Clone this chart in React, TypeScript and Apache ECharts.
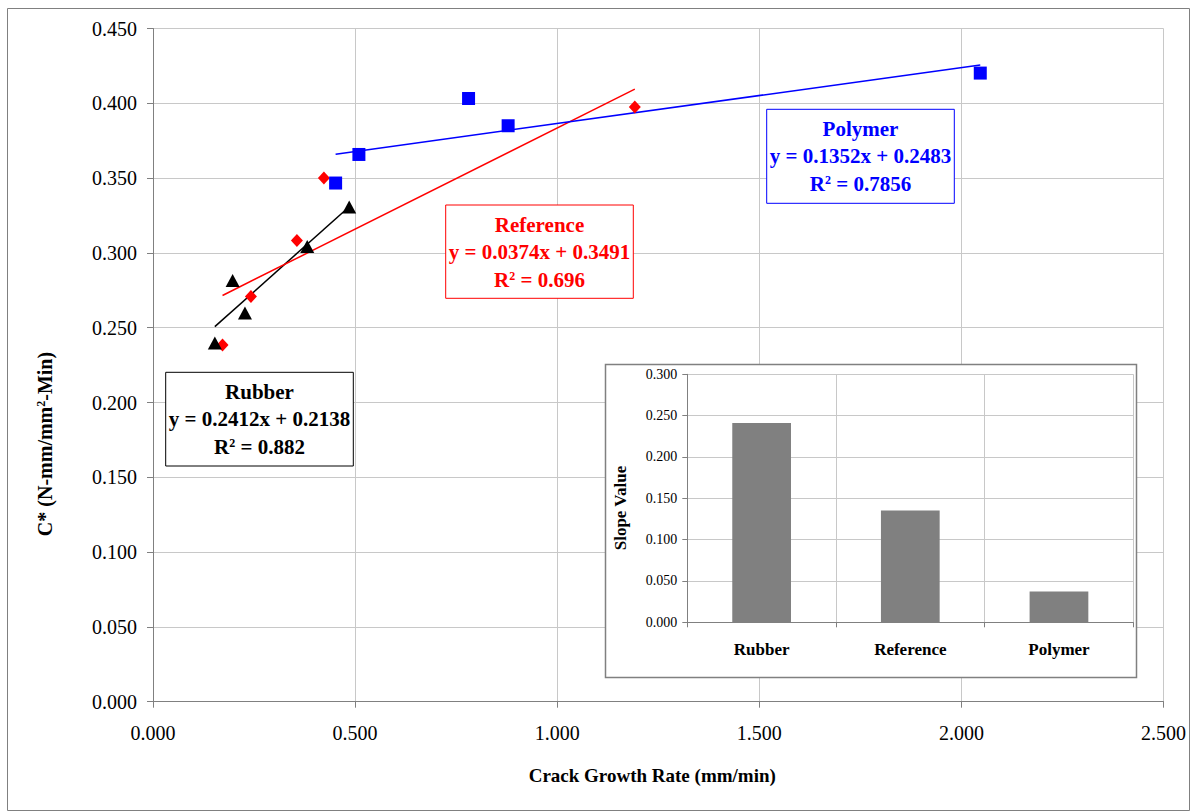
import React, { useEffect, useRef } from "react";
import * as echarts from "echarts";

// Scatter data
const rubberX = [0.153, 0.197, 0.2275, 0.3816, 0.4854];
const rubberY = [0.2398, 0.2816, 0.2598, 0.3043, 0.3307];
const referenceX = [0.172, 0.2423, 0.356, 0.4228, 1.192];
const referenceY = [0.2384, 0.2709, 0.3083, 0.35, 0.3975];
const polymerX = [0.4518, 0.5094, 0.7807, 0.8786, 2.0467];
const polymerY = [0.3467, 0.3658, 0.4032, 0.385, 0.4202];

// Trend lines as drawn: [slope, intercept]
const rubberTrend = [0.2412, 0.2138];
const referenceTrend = [0.1352, 0.2483];
const polymerTrend = [0.0374, 0.3491];

// Inset bar chart
const slopeCategories = ["Rubber", "Reference", "Polymer"];
const slopeValues = [0.2412, 0.1352, 0.0374];

// Annotation box texts (as printed)
const rubberLabel = ["Rubber", "y = 0.2412x + 0.2138", "0.882"];
const referenceLabel = ["Reference", "y = 0.0374x + 0.3491", "0.696"];
const polymerLabel = ["Polymer", "y = 0.1352x + 0.2483", "0.7856"];

const FONT = "'Liberation Serif', 'Times New Roman', serif";

function pts(xs: number[], ys: number[]) {
  return xs.map((x, i) => [x, ys[i]]);
}
function trend(xs: number[], t: number[]) {
  const a = Math.min(...xs);
  const b = Math.max(...xs);
  return [
    [a, t[0] * a + t[1]],
    [b, t[0] * b + t[1]],
  ];
}

function box(
  x: number,
  y: number,
  w: number,
  h: number,
  color: string,
  lines: string[]
) {
  const cx = x + w / 2;
  const base = { fontFamily: FONT, fontWeight: "bold", fontSize: 21, fill: color };
  return {
    type: "group",
    z: 10,
    children: [
      {
        type: "rect",
        z: 10,
        shape: { x, y, width: w, height: h },
        style: { fill: "#ffffff", stroke: color, lineWidth: 1 },
      },
      {
        type: "text",
        z: 11,
        x: cx,
        y: y + 19.5,
        style: { ...base, text: lines[0], align: "center", verticalAlign: "middle" },
      },
      {
        type: "text",
        z: 11,
        x: cx,
        y: y + 47,
        style: { ...base, text: lines[1], align: "center", verticalAlign: "middle" },
      },
      {
        type: "text",
        z: 11,
        x: cx,
        y: y + 75,
        style: {
          text: "{a|R}{s|2}{a| = " + lines[2] + "}",
          align: "center",
          verticalAlign: "middle",
          fill: color,
          rich: {
            a: { fontFamily: FONT, fontWeight: "bold", fontSize: 21, fill: color, color: color },
            s: {
              fontFamily: FONT,
              fontWeight: "bold",
              fontSize: 12,
              fill: color,
              color: color,
              verticalAlign: "top",
              padding: [0, 0, 6, 0],
            },
          },
        },
      },
    ],
  };
}

export default function App() {
  const ref = useRef<HTMLDivElement>(null);
  useEffect(() => {
    document.body.style.margin = "0";
    const chart = echarts.init(ref.current!, null, { renderer: "svg" });
    const gridGray = "#c8c8c8";
    const axisGray = "#808080";
    chart.setOption({
      animation: false,
      backgroundColor: "#ffffff",
      textStyle: { fontFamily: FONT },
      grid: [
        { left: 153, right: 30.5, top: 28.5, bottom: 110.3 },
        { left: 687.3, right: 60.7, top: 374.3, bottom: 189.7 },
      ],
      xAxis: [
        {
          type: "value",
          gridIndex: 0,
          min: 0,
          max: 2.5,
          interval: 0.5,
          name: "Crack Growth Rate (mm/min)",
          nameLocation: "middle",
          nameGap: 64,
          nameTextStyle: {
            fontFamily: FONT,
            fontWeight: "bold",
            fontSize: 19,
            color: "#000",
            padding: [0, 12, 0, 0],
          },
          axisLine: { show: true, lineStyle: { color: axisGray } },
          axisTick: { show: true, length: 6, lineStyle: { color: axisGray } },
          splitLine: { show: true, lineStyle: { color: gridGray } },
          axisLabel: {
            fontFamily: FONT,
            fontSize: 20,
            color: "#000",
            margin: 21,
            formatter: (v: number) => v.toFixed(3),
          },
        },
        {
          type: "category",
          gridIndex: 1,
          data: slopeCategories,
          z: 5,
          axisLine: { show: true, lineStyle: { color: axisGray } },
          axisTick: { show: true, length: 5, lineStyle: { color: axisGray } },
          splitLine: { show: true, lineStyle: { color: gridGray } },
          axisLabel: {
            fontFamily: FONT,
            fontSize: 17,
            fontWeight: "bold",
            color: "#000",
            margin: 19,
          },
        },
      ],
      yAxis: [
        {
          type: "value",
          gridIndex: 0,
          min: 0,
          max: 0.45,
          interval: 0.05,
          axisLine: { show: true, lineStyle: { color: axisGray } },
          axisTick: { show: true, length: 6, lineStyle: { color: axisGray } },
          splitLine: { show: true, lineStyle: { color: gridGray } },
          axisLabel: {
            fontFamily: FONT,
            fontSize: 20,
            color: "#000",
            margin: 16,
            formatter: (v: number) => v.toFixed(3),
          },
        },
        {
          type: "value",
          gridIndex: 1,
          min: 0,
          max: 0.3,
          interval: 0.05,
          z: 5,
          axisLine: { show: true, lineStyle: { color: axisGray } },
          axisTick: { show: true, length: 5, lineStyle: { color: axisGray } },
          splitLine: { show: true, lineStyle: { color: gridGray } },
          axisLabel: {
            fontFamily: FONT,
            fontSize: 14,
            color: "#000",
            margin: 10,
            formatter: (v: number) => v.toFixed(3),
          },
        },
      ],
      series: [
        {
          type: "line",
          xAxisIndex: 0,
          yAxisIndex: 0,
          data: trend(rubberX, rubberTrend),
          symbol: "none",
          lineStyle: { color: "#000000", width: 1.5 },
          z: 2,
        },
        {
          type: "line",
          xAxisIndex: 0,
          yAxisIndex: 0,
          data: trend(referenceX, referenceTrend),
          symbol: "none",
          lineStyle: { color: "#ff0000", width: 1.5 },
          z: 2,
        },
        {
          type: "line",
          xAxisIndex: 0,
          yAxisIndex: 0,
          data: trend(polymerX, polymerTrend),
          symbol: "none",
          lineStyle: { color: "#0000ff", width: 1.5 },
          z: 2,
        },
        {
          type: "scatter",
          name: "Reference",
          xAxisIndex: 0,
          yAxisIndex: 0,
          data: pts(referenceX, referenceY),
          symbol: "diamond",
          symbolSize: [12, 13],
          itemStyle: { color: "#ff0000", opacity: 1 },
          z: 3,
        },
        {
          type: "scatter",
          name: "Polymer",
          xAxisIndex: 0,
          yAxisIndex: 0,
          data: pts(polymerX, polymerY),
          symbol: "rect",
          symbolSize: 13,
          itemStyle: { color: "#0000ff", opacity: 1 },
          z: 3,
        },
        {
          type: "scatter",
          name: "Rubber",
          xAxisIndex: 0,
          yAxisIndex: 0,
          data: pts(rubberX, rubberY),
          symbol: "triangle",
          symbolSize: [14, 13],
          itemStyle: { color: "#000000", opacity: 1 },
          z: 4,
        },
        {
          type: "bar",
          xAxisIndex: 1,
          yAxisIndex: 1,
          data: slopeValues,
          barWidth: "39.5%",
          itemStyle: { color: "#808080" },
          z: 6,
        },
      ],
      graphic: {
        elements: [
          {
            type: "rect",
            z: 1,
            shape: { x: 7.5, y: 8.5, width: 1182, height: 802 },
            style: { fill: "none", stroke: "#808080", lineWidth: 1 },
          },
          {
            type: "rect",
            z: 3,
            shape: { x: 605.5, y: 364.5, width: 531, height: 313 },
            style: { fill: "#ffffff", stroke: "#808080", lineWidth: 1.5 },
          },
          {
            type: "text",
            z: 11,
            x: 620,
            y: 508,
            rotation: Math.PI / 2,
            style: {
              text: "Slope Value",
              fontFamily: FONT,
              fontWeight: "bold",
              fontSize: 17,
              fill: "#000",
              align: "center",
              verticalAlign: "middle",
            },
          },
          {
            type: "text",
            z: 11,
            x: 45,
            y: 444,
            rotation: Math.PI / 2,
            style: {
              text: "{a|C* (N-mm/mm}{s|2}{a|-Min)}",
              align: "center",
              verticalAlign: "middle",
              fill: "#000",
              rich: {
                a: { fontFamily: FONT, fontWeight: "bold", fontSize: 20, fill: "#000", color: "#000" },
                s: {
                  fontFamily: FONT,
                  fontWeight: "bold",
                  fontSize: 12,
                  fill: "#000",
                  color: "#000",
                  verticalAlign: "top",
                  padding: [0, 0, 6, 0],
                },
              },
            },
          },
          box(165.7, 372.3, 187.6, 93.7, "#000000", rubberLabel),
          box(445.7, 205, 187.6, 93.3, "#ff0000", referenceLabel),
          box(766.7, 109.3, 187.6, 94, "#0000ff", polymerLabel),
        ],
      },
    });
    return () => chart.dispose();
  }, []);
  return <div ref={ref} style={{ width: 1194, height: 812 }} />;
}
